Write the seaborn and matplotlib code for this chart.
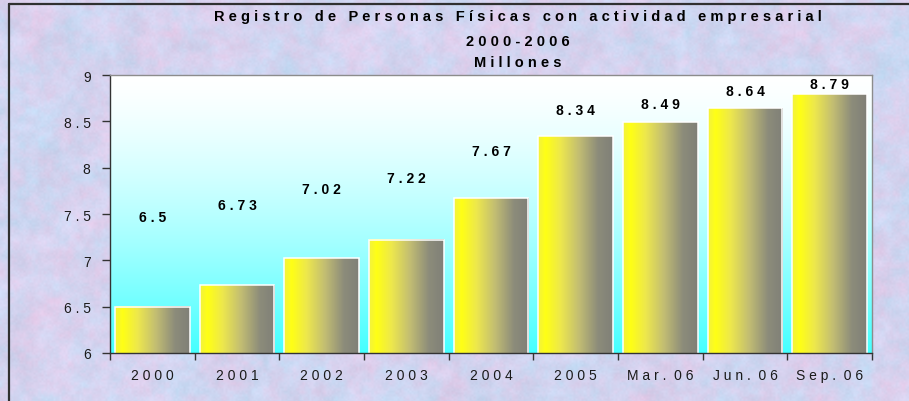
import numpy as np
import pandas as pd
import matplotlib
matplotlib.use("Agg")
import matplotlib.pyplot as plt
from matplotlib.lines import Line2D
import seaborn as sns

# --- data -------------------------------------------------------------
categories = ["2000", "2001", "2002", "2003", "2004", "2005",
              "Mar. 06", "Jun. 06", "Sep. 06"]
values = [6.5, 6.73, 7.02, 7.22, 7.67, 8.34, 8.49, 8.64, 8.79]
y_ticks = [6, 6.5, 7, 7.5, 8, 8.5, 9]
title_lines = ["Registro de Personas Físicas con actividad empresarial",
               "2000-2006",
               "Millones"]

# --- style ------------------------------------------------------------
sns.set_theme(style="ticks")
plt.rcParams["font.family"] = ["Liberation Sans", "DejaVu Sans"]

W, H = 909, 402
DARK = "#1a1a1a"


def spaced(text, word_gap=3):
    """Wide letter tracking, as in the old spreadsheet chart."""
    return (" " * word_gap).join(" ".join(word) for word in text.split(" "))


def lattice_noise(h, w, cell, offset):
    """Smooth value noise built from a sine hash on a coarse lattice."""
    gy = np.arange(h // cell + 3)[:, None]
    gx = np.arange(w // cell + 3)[None, :]
    lat = np.sin(gx * 127.1 + gy * 311.7 + offset) * 43758.5453
    lat = lat - np.floor(lat)
    yy, xx = np.mgrid[0:h, 0:w].astype(float)
    fy, fx = yy / cell, xx / cell
    iy, ix = fy.astype(int), fx.astype(int)
    ty, tx = fy - iy, fx - ix
    ty = ty * ty * (3 - 2 * ty)
    tx = tx * tx * (3 - 2 * tx)
    a = lat[iy, ix]
    b = lat[iy, ix + 1]
    c = lat[iy + 1, ix]
    d = lat[iy + 1, ix + 1]
    return (a * (1 - tx) + b * tx) * (1 - ty) + (c * (1 - tx) + d * tx) * ty


df = pd.DataFrame({"periodo": categories, "millones": values})

fig = plt.figure(figsize=(W / 100, H / 100), dpi=100)

# mottled paper background
hue = sum(amp * lattice_noise(H, W, cell, off) for amp, cell, off in
          [(0.25, 45, 1.0), (0.35, 16, 2.3), (0.25, 7, 3.7), (0.15, 3, 5.1)])
light = sum(amp * lattice_noise(H, W, cell, off) for amp, cell, off in
            [(0.4, 22, 7.9), (0.35, 8, 9.2), (0.25, 2, 11.4)])
hue = (hue - hue.min()) / (hue.max() - hue.min())
light = (light - light.min()) / (light.max() - light.min())
blue = np.array([0.76, 0.86, 0.96])
pink = np.array([0.90, 0.80, 0.92])
tex = blue[None, None, :] * (1 - hue[..., None]) + pink[None, None, :] * hue[..., None]
tex = np.clip(tex + (light[..., None] - 0.5) * 0.08, 0, 1)

bg = fig.add_axes([0, 0, 1, 1], zorder=-10)
bg.imshow(tex, extent=[0, 1, 0, 1], aspect="auto", interpolation="bilinear")
bg.set_axis_off()

# frame of the chart area (top and left edges)
fx, fy = 9 / W, 1 - 5 / H
fig.add_artist(Line2D([fx, fx], [0, fy], color="#303030", lw=1.6))
fig.add_artist(Line2D([fx, 1], [fy, fy], color="#303030", lw=1.6))

# --- plot area --------------------------------------------------------
ax = fig.add_axes([110 / W, 48 / H, 762 / W, 278 / H])

sns.barplot(data=df, x="periodo", y="millones", ax=ax, width=0.885,
            color="yellow", saturation=1, edgecolor="white", linewidth=1.1)

ymin, ymax = y_ticks[0], y_ticks[-1]

# white-to-cyan wall behind the bars
s = np.linspace(0, 1, 256)[:, None]
r = 1 - 0.73 * s ** 1.4
wall = np.dstack([r, np.ones_like(r), np.ones_like(r)])
ax.imshow(wall, extent=[-0.5, len(categories) - 0.5, ymin, ymax],
          aspect="auto", zorder=0, interpolation="bilinear")

# horizontal yellow-to-grey shading on each bar
stops_u = [0.0, 0.1, 0.3, 0.55, 0.8, 1.0]
stops_c = np.array([[0.95, 0.95, 0.25], [1.0, 1.0, 0.08], [0.93, 0.91, 0.30],
                    [0.76, 0.74, 0.45], [0.55, 0.55, 0.48], [0.50, 0.50, 0.47]])
u = np.linspace(0, 1, 200)
shade = np.stack([np.interp(u, stops_u, stops_c[:, k]) for k in range(3)], axis=-1)[None, :, :]

for patch in ax.patches:
    x0 = patch.get_x()
    w = patch.get_width()
    top = patch.get_y() + patch.get_height()
    ax.imshow(shade, extent=[x0, x0 + w, ymin, top], aspect="auto",
              zorder=1.5, interpolation="bilinear")
    patch.set_facecolor("none")
    patch.set_zorder(2)

ax.set_xlim(-0.5, len(categories) - 0.5)
ax.set_ylim(ymin, ymax)

# value labels
label_y = [7.47, 7.60, 7.77, 7.89, 8.18, 8.62, 8.69, 8.83, 8.90]
for i, (v, ly) in enumerate(zip(values, label_y)):
    ax.text(i, ly, spaced(f"{v:g}"), ha="center", va="center",
            fontsize=10, fontweight="bold", color="black", zorder=3)

# axes and ticks
ax.set_yticks(y_ticks)
ax.set_yticklabels([spaced(f"{t:g}") for t in y_ticks], fontsize=10, color=DARK)
ax.set_xticks(range(len(categories)))
ax.set_xticklabels([spaced(c, word_gap=2) for c in categories], fontsize=10, color=DARK)
ax.set_xticks(np.arange(-0.5, len(categories), 1), minor=True)
ax.tick_params(axis="x", which="major", length=0, pad=11, bottom=True)
ax.tick_params(axis="x", which="minor", length=5, width=1, color="#333333",
               direction="out", bottom=True)
ax.tick_params(axis="y", which="major", length=6, width=1, color="#333333",
               direction="out", pad=8, left=True)
ax.set_xlabel("")
ax.set_ylabel("")

for side in ("left", "bottom"):
    ax.spines[side].set_color("#333333")
    ax.spines[side].set_linewidth(1.0)
for side in ("top", "right"):
    ax.spines[side].set_visible(True)
    ax.spines[side].set_color("#8c8c8c")
    ax.spines[side].set_linewidth(1.0)

# title block
for line, ypx in zip(title_lines, [17, 42, 63]):
    fig.text(518 / W, 1 - ypx / H, spaced(line), ha="center", va="center",
             fontsize=10.5, fontweight="bold", color="black")

fig.savefig("out.png", dpi=100)
